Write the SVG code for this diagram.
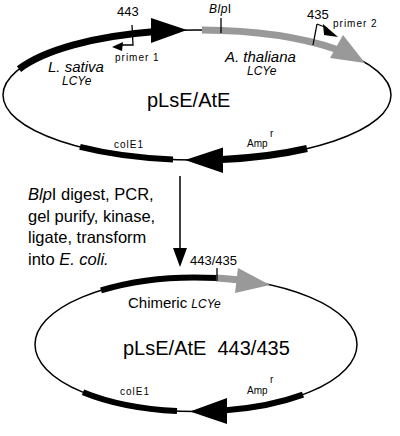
<svg xmlns="http://www.w3.org/2000/svg" width="400" height="436" viewBox="0 0 400 436">
<style>
text{font-family:"Liberation Sans",Arial,sans-serif;fill:#000}
.it{font-style:italic}
.sm{font-size:10px;letter-spacing:1px}
.num{font-size:13px}
.thin{fill:none;stroke:#000;stroke-width:1.5}
.blk{fill:none;stroke:#000;stroke-width:7}
.gry{fill:none;stroke:#999;stroke-width:7}
.tick{fill:none;stroke:#000;stroke-width:1.3}
</style>
<rect width="400" height="436" fill="#fff"/>
<g id="plasmid1">
<ellipse class="thin" cx="197" cy="95" rx="194" ry="65"/>
<path class="blk" d="M19,69.1 A194,65 0 0,1 153,31.8"/>
<polygon points="151,18 151,43 187,30" fill="#000"/>
<path class="gry" d="M202,30.1 A194,65 0 0,1 337,49.5"/>
<polygon points="343,35 330,58 365,63" fill="#999"/>
<path class="blk" d="M307,148.5 A194,65 0 0,1 222,159.4"/>
<polygon points="223,147.5 223,173 185,160" fill="#000"/>
<path class="blk" style="stroke-width:6" d="M173,159.5 A194,65 0 0,1 80,146.9"/>
<line class="tick" x1="221" y1="18" x2="221" y2="33"/>
<polyline class="tick" points="132,25 133,45 122,45"/>
<polygon points="123,42 112,47 122,51" fill="#000"/>
<line class="tick" x1="313" y1="45" x2="317" y2="24"/>
<line class="tick" x1="317" y1="24" x2="327" y2="28"/>
<polygon points="323,24 338,37 324,35" fill="#000"/>
<text x="117" y="16" class="num">443</text>
<text x="209" y="13" font-size="12" letter-spacing="0.5"><tspan class="it">Blp</tspan>I</text>
<text x="307" y="19" class="num">435</text>
<text x="115" y="61" class="sm">primer 1</text>
<text x="333" y="27" class="sm">primer 2</text>
<text x="48" y="72" class="it" font-size="15">L. sativa</text>
<text x="62" y="85" class="it" font-size="12">LCYe</text>
<text x="225" y="62" class="it" font-size="15">A. thaliana</text>
<text x="247" y="75" class="it" font-size="12">LCYe</text>
<text x="147" y="107" font-size="20">pLsE/AtE</text>
<text x="114" y="148" class="sm">colE1</text>
<text x="247" y="147" font-size="10">Amp</text>
<text x="270" y="137" font-size="10">r</text>
</g>
<g id="procedure-text" font-size="16.5">
<text x="28" y="200" font-size="16.5"><tspan class="it">Blp</tspan>I digest, PCR,</text>
<text x="28" y="221.7" font-size="16.5">gel purify, kinase,</text>
<text x="28" y="243.3" font-size="16.5">ligate, transform</text>
<text x="28" y="265" font-size="16.5">into <tspan class="it">E. coli.</tspan></text>
</g>
<g id="connectors">
<line x1="180" y1="176" x2="180" y2="252" stroke="#000" stroke-width="1.5"/>
<polygon points="173,248 187,248 180,267" fill="#000"/>
</g>
<g id="plasmid2">
<ellipse class="thin" cx="196" cy="344.5" rx="161" ry="67"/>
<path class="blk" style="stroke-width:6" d="M101,290.4 A161,67 0 0,1 217,278.1"/>
<path class="gry" d="M216,278.1 A161,67 0 0,1 237,279.7"/>
<polygon points="238,268 235,293 270,285" fill="#999"/>
<path class="blk" style="stroke-width:6" d="M303,394.6 A161,67 0 0,1 226,410.2"/>
<polygon points="227,398 227,424 190,411.5" fill="#000"/>
<path class="blk" style="stroke-width:6" d="M177,411 A161,67 0 0,1 83,392.2"/>
<line class="tick" x1="217" y1="268" x2="217" y2="281"/>
<text x="190" y="265" class="num">443/435</text>
<text x="128" y="308" font-size="15">Chimeric <tspan class="it" font-size="12">LCYe</tspan></text>
<text x="123" y="355" font-size="20" xml:space="preserve">pLsE/AtE  443/435</text>
<text x="120" y="395" class="sm">colE1</text>
<text x="247" y="394" font-size="10">Amp</text>
<text x="270" y="383" font-size="10">r</text>
</g>
</svg>
